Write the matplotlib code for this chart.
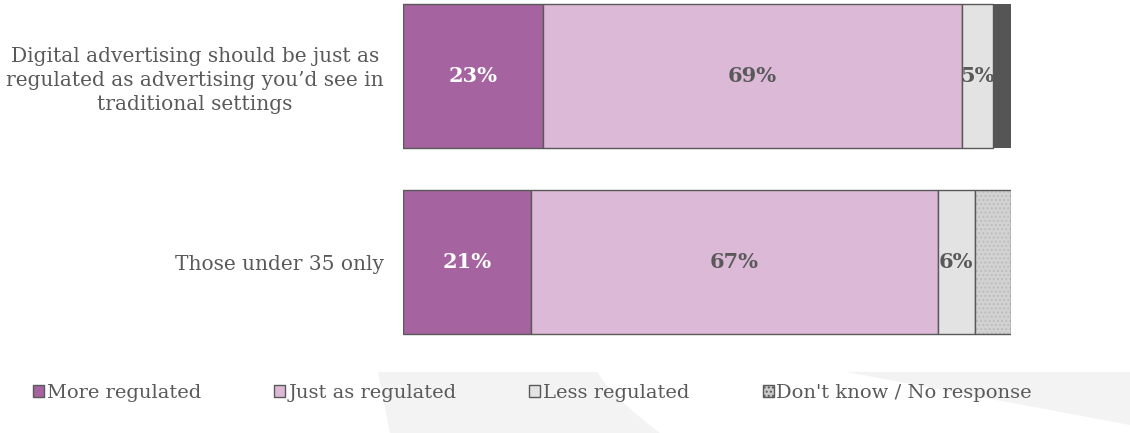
import numpy as np
import matplotlib.pyplot as plt
from matplotlib.patches import Polygon, Patch

# data
categories = ["Digital advertising should be just as\nregulated as advertising you\u2019d see in\ntraditional settings",
              "Those under 35 only"]
series = ["More regulated", "Just as regulated", "Less regulated", "Don't know / No response"]
more_reg = [23, 21]
just_as = [69, 67]
less_reg = [5, 6]
dont_know = [3, 6]
labels_shown = [[True, True, True, False], [True, True, True, False]]

plt.rcParams['font.family'] = ['DejaVu Serif']
txt = '#595959'
edge = '#595959'
colors = ['#a5649f', '#dbb9d7', '#e3e3e3', '#cccccc']

fig = plt.figure(figsize=(11.3, 4.33), dpi=100)

# faint background shapes
W, H = 1130, 433
def px(pts):
    return [(x / W, 1 - y / H) for x, y in pts]
curve_y = np.linspace(372, 433, 20)
right_edge = 598 + 62 * ((curve_y - 372) / 61) ** 1.3
shape1 = [(378, 372)] + list(zip(right_edge, curve_y)) + [(390, 433)]
fig.patches.append(Polygon(px(shape1), closed=True, transform=fig.transFigure,
                           facecolor='#f3f3f3', edgecolor='none', zorder=0))
shape2 = [(847, 372), (1130, 372), (1130, 425)]
fig.patches.append(Polygon(px(shape2), closed=True, transform=fig.transFigure,
                           facecolor='#f3f3f3', edgecolor='none', zorder=0))

ax = fig.add_axes([403 / W, 1 - 340 / H, 608 / W, 340 / H])
ax.patch.set_alpha(0)

y = np.arange(len(categories))
h = 0.774
vals = np.array([more_reg, just_as, less_reg, dont_know], dtype=float)
left = np.zeros(len(categories))
for i, s in enumerate(series):
    for j in range(len(categories)):
        v = vals[i, j]
        if i == 3 and j == 0:
            ax.barh(y[j], v, left=left[j], height=h, color='#555555', edgecolor='none')
        elif i == 3:
            ax.barh(y[j], v, left=left[j], height=h, color='#d2d2d2', edgecolor='#bdbdbd',
                    hatch='....', linewidth=0)
            ax.barh(y[j], v, left=left[j], height=h, color='none', edgecolor=edge, linewidth=1)
        else:
            ax.barh(y[j], v, left=left[j], height=h, color=colors[i], edgecolor=edge, linewidth=1)
        if labels_shown[j][i]:
            ax.text(left[j] + v / 2, y[j], f"{int(v)}%", ha='center', va='center',
                    fontsize=15, fontweight='bold',
                    color='white' if i == 0 else txt)
    left += vals[i]

ax.set_xlim(0, 100)
ax.set_ylim(1.419, -0.4085)
ax.set_yticks(y)
ax.set_yticklabels(categories, fontsize=14.5, color=txt, linespacing=1.35)
for lab in ax.get_yticklabels():
    lab.set_multialignment('center')
ax.tick_params(axis='y', length=0, pad=14)
ax.set_xticks([])
for sp in ax.spines.values():
    sp.set_visible(False)

handles = [Patch(facecolor=colors[0], edgecolor=edge),
           Patch(facecolor=colors[1], edgecolor=edge),
           Patch(facecolor=colors[2], edgecolor=edge),
           Patch(facecolor='#cccccc', edgecolor=edge, hatch='....')]
leg = fig.legend(handles, series, loc='center left', bbox_to_anchor=(33 / W, 1 - 393 / H),
                 ncol=4, frameon=False, fontsize=14, handlelength=0.57, handleheight=0.57,
                 handletextpad=0.15, columnspacing=3.75, borderpad=0, borderaxespad=0)
for t in leg.get_texts():
    t.set_color(txt)

fig.savefig('out.png', dpi=100)
